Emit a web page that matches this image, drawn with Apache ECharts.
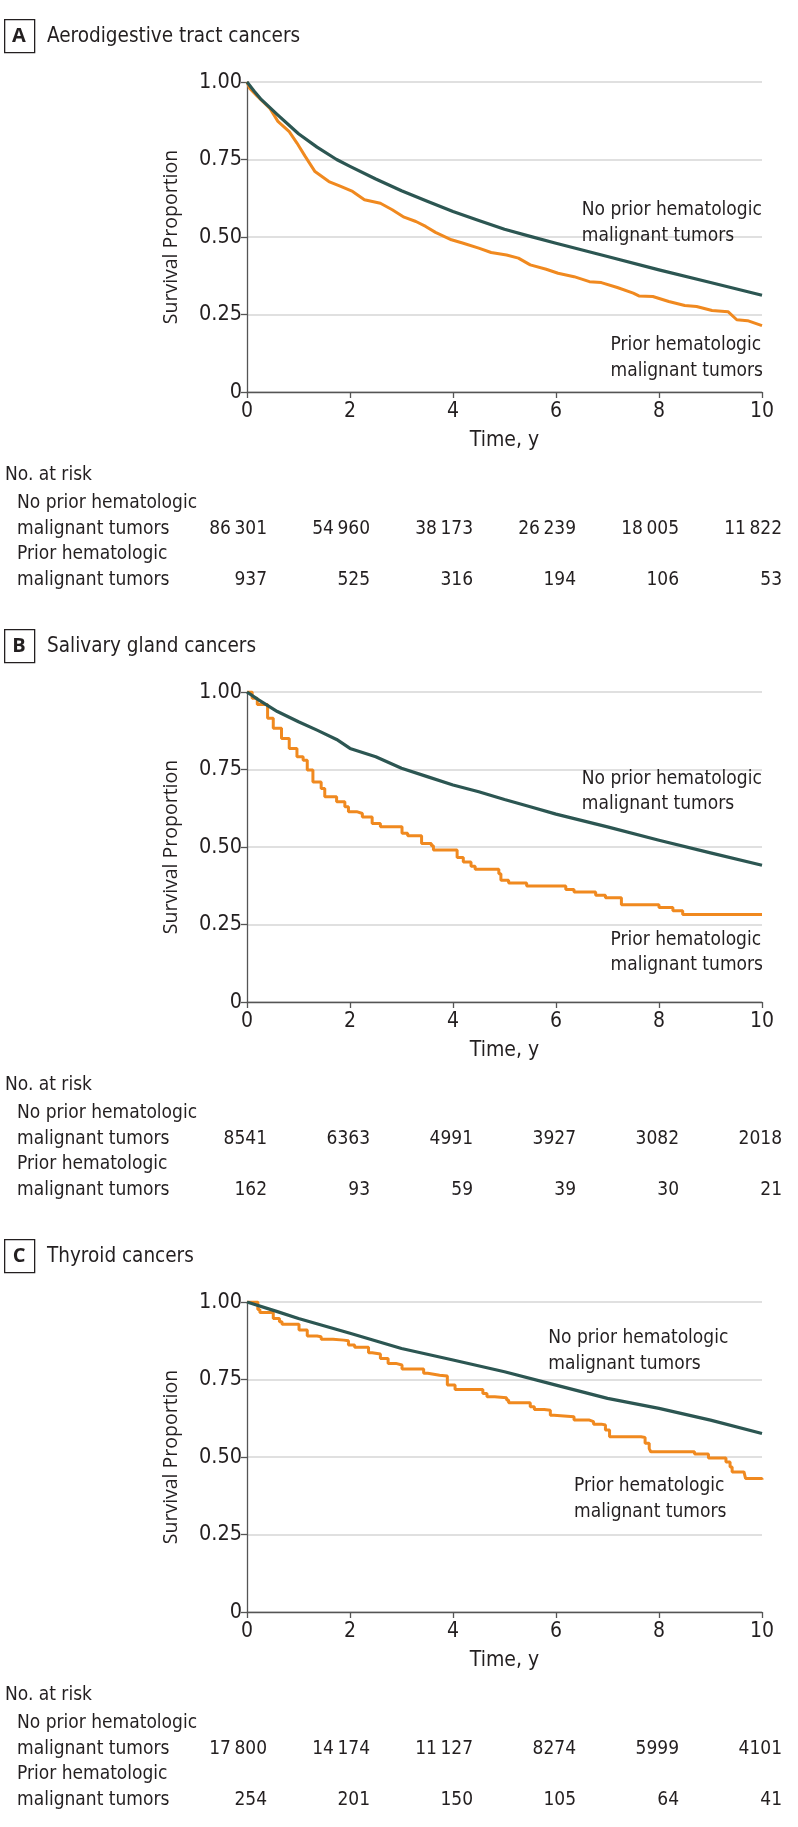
<!DOCTYPE html>
<html>
<head>
<meta charset="utf-8">
<script src="https://cdn.jsdelivr.net/npm/echarts@6/dist/echarts.min.js"></script>
<style>
html,body{margin:0;padding:0;background:#fff;}
#chart{width:798px;height:1827px;}
</style>
</head>
<body>
<div id="chart"></div>
<script>
// ---------- data ----------
const panelLetters = ['A', 'B', 'C'];
const panelTitles = ['Aerodigestive tract cancers', 'Salivary gland cancers', 'Thyroid cancers'];
const xTicks = [0, 2, 4, 6, 8, 10];
const seriesNames = ['No prior hematologic\nmalignant tumors', 'Prior hematologic\nmalignant tumors'];

// Panel A
const noPriorA = [[0,1],[0.14,0.97],[0.28,0.943],[0.59,0.895],[1,0.833],[1.36,0.79],[1.74,0.75],[2,0.728],[2.5,0.687],[3,0.649],[3.5,0.615],[4,0.582],[4.5,0.553],[5,0.525],[5.5,0.502],[6,0.48],[7,0.437],[8,0.394],[9,0.353],[10,0.312]];
const priorA = [[0,1],[0.05,0.98],[0.2,0.954],[0.44,0.916],[0.6,0.873],[0.82,0.84],[0.97,0.803],[1.13,0.76],[1.32,0.711],[1.59,0.679],[1.82,0.663],[2.05,0.647],[2.28,0.62],[2.59,0.609],[2.82,0.588],[3.05,0.564],[3.28,0.55],[3.47,0.534],[3.66,0.515],[3.97,0.491],[4.2,0.48],[4.5,0.464],[4.74,0.45],[5.04,0.442],[5.27,0.432],[5.5,0.41],[5.81,0.396],[6.04,0.383],[6.35,0.372],[6.65,0.356],[6.88,0.353],[7.19,0.337],[7.5,0.319],[7.61,0.31],[7.88,0.308],[8.19,0.292],[8.5,0.279],[8.73,0.276],[9.03,0.263],[9.34,0.259],[9.51,0.233],[9.72,0.23],[10,0.214]];
const riskNoPriorA = [86301, 54960, 38173, 26239, 18005, 11822];
const riskPriorA = [937, 525, 316, 194, 106, 53];

// Panel B
const noPriorB = [[0,1],[0.21,0.976],[0.59,0.937],[1,0.904],[1.36,0.877],[1.74,0.847],[2,0.818],[2.5,0.791],[3,0.754],[3.5,0.727],[4,0.7],[4.5,0.678],[5,0.653],[5.5,0.63],[6,0.606],[7,0.565],[8,0.522],[9,0.481],[10,0.441]];
const priorB = [[0,1],[0.1,0.98],[0.2,0.96],[0.4,0.915],[0.51,0.883],[0.67,0.85],[0.82,0.818],[0.97,0.791],[1.09,0.78],[1.17,0.748],[1.28,0.71],[1.44,0.689],[1.51,0.662],[1.74,0.646],[1.9,0.63],[1.97,0.614],[2.13,0.608],[2.24,0.597],[2.43,0.576],[2.59,0.565],[3.01,0.544],[3.12,0.536],[3.39,0.511],[3.58,0.504],[3.62,0.49],[4.08,0.466],[4.2,0.452],[4.35,0.438],[4.43,0.428],[4.89,0.414],[4.93,0.393],[5.08,0.384],[5.43,0.374],[6.19,0.363],[6.35,0.355],[6.77,0.344],[6.96,0.336],[7.27,0.314],[8.0,0.305],[8.27,0.294],[8.46,0.282],[10,0.282]];
const riskNoPriorB = [8541, 6363, 4991, 3927, 3082, 2018];
const riskPriorB = [162, 93, 59, 39, 30, 21];

// Panel C
const noPriorC = [[0,1],[0.59,0.969],[1,0.947],[2,0.899],[3,0.85],[4,0.813],[5,0.775],[6,0.732],[7,0.689],[8,0.657],[9,0.619],[10,0.576]];
const priorC = [[0,1],[0.21,0.976],[0.25,0.966],[0.51,0.947],[0.63,0.936],[0.68,0.928],[1.01,0.91],[1.17,0.89],[1.36,0.888],[1.44,0.88],[1.67,0.877],[1.88,0.875],[1.97,0.861],[2.09,0.854],[2.36,0.836],[2.43,0.832],[2.59,0.818],[2.74,0.802],[2.89,0.797],[3.01,0.784],[3.43,0.77],[3.51,0.764],[3.74,0.761],[3.89,0.732],[4.04,0.718],[4.58,0.705],[4.66,0.694],[4.81,0.691],[5.04,0.684],[5.08,0.675],[5.5,0.662],[5.58,0.653],[5.77,0.651],[5.89,0.635],[5.96,0.63],[6.35,0.619],[6.65,0.614],[6.73,0.606],[6.88,0.603],[6.96,0.587],[7.04,0.565],[7.65,0.563],[7.73,0.544],[7.81,0.527],[7.84,0.517],[8.69,0.51],[8.96,0.497],[9.3,0.484],[9.38,0.468],[9.42,0.452],[9.65,0.449],[9.68,0.431],[10,0.427]];
const riskNoPriorC = [17800, 14174, 11127, 8274, 5999, 4101];
const riskPriorC = [254, 201, 150, 105, 64, 41];

// ---------- layout & style ----------
const COND = '"Liberation Sans Narrow", "DejaVu Sans Condensed", "Roboto", sans-serif';
const WIDE = '"Open Sans", "Noto Sans", sans-serif';
const TXT = '#231f20';
const DARK = '#2c5652';
const ORANGE = '#f0891f';
const PANEL_STEP = 610;

const panels = [
  {noPrior: noPriorA, prior: priorA, priorStep: false, riskNo: riskNoPriorA, riskPrior: riskPriorA, noPriorLabelAt: [6.5, 0.545], priorLabelAt: [7.06, 0.11]},
  {noPrior: noPriorB, prior: priorB, priorStep: 'end', riskNo: riskNoPriorB, riskPrior: riskPriorB, noPriorLabelAt: [6.5, 0.679], priorLabelAt: [7.06, 0.16]},
  {noPrior: noPriorC, prior: priorC, priorStep: 'end', riskNo: riskNoPriorC, riskPrior: riskPriorC, noPriorLabelAt: [5.85, 0.842], priorLabelAt: [6.35, 0.365]}
];

function fmtN(n) {
  const s = String(n);
  return n >= 10000 ? s.slice(0, s.length - 3) + '\u2009' + s.slice(-3) : s;
}

const grid = [], xAxis = [], yAxis = [], series = [], graphic = [];
const hidden = {color: 'rgba(255,255,255,0)'};

panels.forEach((p, i) => {
  const off = i * PANEL_STEP;
  const gPlot = grid.length;
  grid.push({left: 247, top: 82 + off, width: 515, height: 310});
  const gTab = grid.length;
  grid.push({left: 247, top: 529 + off, width: 515, height: 51});

  xAxis.push({
    gridIndex: gPlot, type: 'value', min: 0, max: 10, interval: 2,
    name: 'Time, y', nameLocation: 'middle', nameGap: 38,
    nameTextStyle: {fontFamily: COND, fontSize: 21, color: TXT},
    axisLine: {show: true, lineStyle: {color: '#555', width: 1.3}},
    axisTick: {show: true, length: 6, lineStyle: {color: '#555', width: 1.3}},
    axisLabel: {fontFamily: COND, fontSize: 21, color: TXT, margin: 9},
    splitLine: {show: false}
  });
  yAxis.push({
    gridIndex: gPlot, type: 'value', min: 0, max: 1, interval: 0.25,
    name: 'Survival Proportion', nameLocation: 'middle', nameGap: 66,
    nameTextStyle: {fontFamily: WIDE, fontSize: 19.5, color: TXT},
    axisLine: {show: true, onZero: false, lineStyle: {color: '#555', width: 1.3}},
    axisTick: {show: true, length: 6, lineStyle: {color: '#555', width: 1.3}},
    axisLabel: {fontFamily: COND, fontSize: 21.5, color: TXT, margin: 5,
      formatter: v => v === 0 ? '0' : v.toFixed(2)},
    splitLine: {show: true, lineStyle: {color: '#d6d6d6', width: 1.5}}
  });
  xAxis.push({gridIndex: gTab, type: 'value', min: 0, max: 10, show: false});
  yAxis.push({gridIndex: gTab, type: 'value', min: 0, max: 1, show: false});

  const plotAx = {xAxisIndex: gPlot, yAxisIndex: gPlot};
  series.push(Object.assign({
    type: 'line', data: p.prior, step: p.priorStep, showSymbol: false, silent: true,
    lineStyle: {color: ORANGE, width: 3}, z: 3
  }, plotAx));
  series.push(Object.assign({
    type: 'line', data: p.noPrior, smooth: false, showSymbol: false, silent: true,
    lineStyle: {color: DARK, width: 3.2, join: 'round'}, z: 4
  }, plotAx));
  series.push(Object.assign({
    type: 'scatter', symbolSize: 0, itemStyle: hidden, silent: true, z: 5,
    data: [[p.noPriorLabelAt[0], p.noPriorLabelAt[1], seriesNames[0]],
           [p.priorLabelAt[0], p.priorLabelAt[1], seriesNames[1]]],
    label: {
      show: true, position: 'right', distance: 0, align: 'left', verticalAlign: 'middle',
      fontFamily: COND, fontSize: 19, lineHeight: 25.5, color: TXT, opacity: 1,
      formatter: prm => seriesNames[prm.dataIndex]
    }
  }, plotAx));

  // number at risk table
  const tabData = [];
  p.riskNo.forEach((v, k) => tabData.push([xTicks[k], 1, v]));
  p.riskPrior.forEach((v, k) => tabData.push([xTicks[k], 0, v]));
  series.push({
    type: 'scatter', xAxisIndex: gTab, yAxisIndex: gTab, symbolSize: 0,
    itemStyle: hidden, silent: true, data: tabData,
    label: {show: true, position: 'left', distance: -20, align: 'right', verticalAlign: 'middle',
      fontFamily: COND, fontSize: 19, color: TXT, opacity: 1, formatter: prm => fmtN(prm.data[2])}
  });

  // panel header and row labels
  graphic.push({type: 'rect', left: 4, top: 19 + off, shape: {width: 30, height: 33},
    style: {fill: '#fff', stroke: '#231f20', lineWidth: 1.3}});
  graphic.push({type: 'text', x: 19, y: 36 + off, style: {text: panelLetters[i], fontFamily: WIDE,
    fontWeight: 'bold', fontSize: 20, fill: TXT, align: 'center', verticalAlign: 'middle'}});
  graphic.push({type: 'text', x: 47, y: 37 + off, style: {text: panelTitles[i], fontFamily: COND,
    fontSize: 20.5, fill: TXT, align: 'left', verticalAlign: 'middle'}});
  const rowTexts = [['No. at risk', 5, 475], [seriesNames[0].split('\n')[0], 17, 503],
    [seriesNames[0].split('\n')[1], 17, 529], [seriesNames[1].split('\n')[0], 17, 554],
    [seriesNames[1].split('\n')[1], 17, 580]];
  rowTexts.forEach(r => graphic.push({type: 'text', x: r[1], y: r[2] + off,
    style: {text: r[0], fontFamily: COND, fontSize: 19, fill: TXT, align: 'left', verticalAlign: 'middle'}}));
});

const chart = echarts.init(document.getElementById('chart'), null, {renderer: 'canvas'});
chart.setOption({animation: false, backgroundColor: '#fff', grid, xAxis, yAxis, series, graphic});
</script>
</body>
</html>
